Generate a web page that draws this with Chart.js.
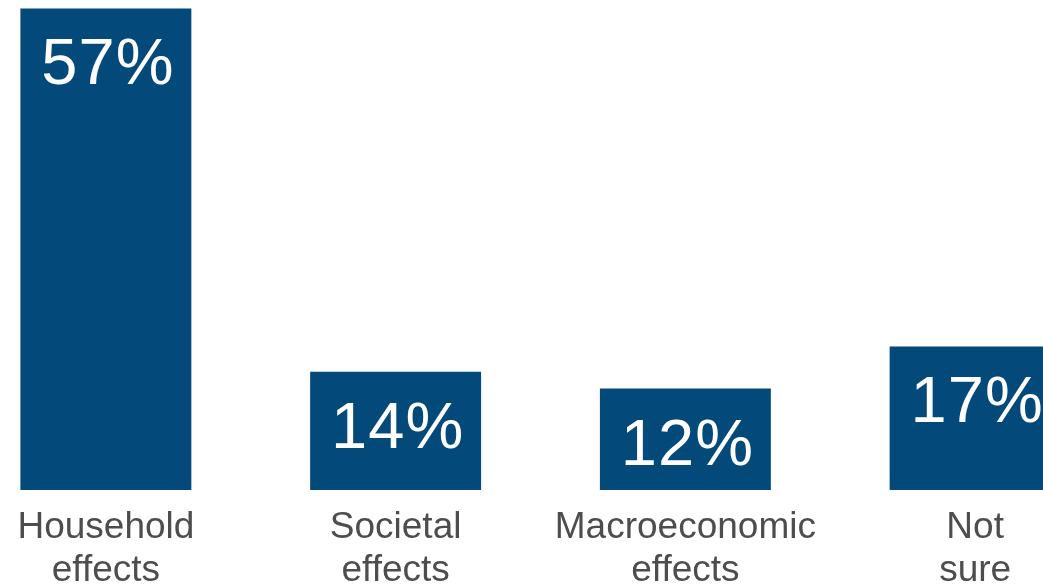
<!DOCTYPE html>
<html>
<head>
<meta charset="utf-8">
<title>Effects</title>
<script src="https://cdn.jsdelivr.net/npm/chart.js@4/dist/chart.umd.min.js"></script>
<style>
    html, body { margin: 0; padding: 0; background: #fff; overflow: hidden; }
    #wrap { position: absolute; left: -39px; top: 0; width: 1159px; height: 588px; }
</style>
</head>
<body>
<div id="wrap"><canvas id="effectsChart"></canvas></div>
<script>
const categories = [
    ['Household', 'effects'],
    ['Societal', 'effects'],
    ['Macroeconomic', 'effects'],
    ['Not', 'sure']
];
const shares = [57, 14, 12, 17];
const yMax = 58;

document.addEventListener('DOMContentLoaded', function() {
    const barColor = '#034a7b';

    // Writes the percentage inside the top part of each bar
    const valueLabels = {
        id: 'valueLabels',
        afterDatasetsDraw(chart) {
            const ctx = chart.ctx;
            const meta = chart.getDatasetMeta(0);
            ctx.save();
            ctx.fillStyle = '#ffffff';
            ctx.font = '65px "Liberation Sans", Arial, sans-serif';
            ctx.textAlign = 'center';
            ctx.textBaseline = 'middle';
            if ('letterSpacing' in ctx) ctx.letterSpacing = '1px';
            meta.data.forEach((bar, i) => {
                ctx.fillText(shares[i] + '%', bar.x + 2, bar.y + 58);
            });
            ctx.restore();
        }
    };

    const ctx = document.getElementById('effectsChart').getContext('2d');
    new Chart(ctx, {
        type: 'bar',
        data: {
            labels: categories,
            datasets: [{
                data: shares,
                backgroundColor: barColor,
                borderWidth: 0,
                categoryPercentage: 1,
                barPercentage: 0.59
            }]
        },
        options: {
            responsive: true,
            maintainAspectRatio: false,
            animation: false,
            layout: { padding: 0 },
            plugins: {
                legend: { display: false },
                tooltip: { enabled: false }
            },
            scales: {
                x: {
                    grid: { display: false },
                    border: { display: false },
                    ticks: {
                        color: '#4d4d4d',
                        padding: 8,
                        maxRotation: 0,
                        autoSkip: false,
                        font: { family: '"Liberation Sans", Arial, sans-serif', size: 37, lineHeight: 1.17 }
                    },
                    afterFit: scale => { scale.height = 98; }
                },
                y: {
                    display: false,
                    min: 0,
                    max: yMax
                }
            }
        },
        plugins: [valueLabels]
    });
});
</script>
</body>
</html>
